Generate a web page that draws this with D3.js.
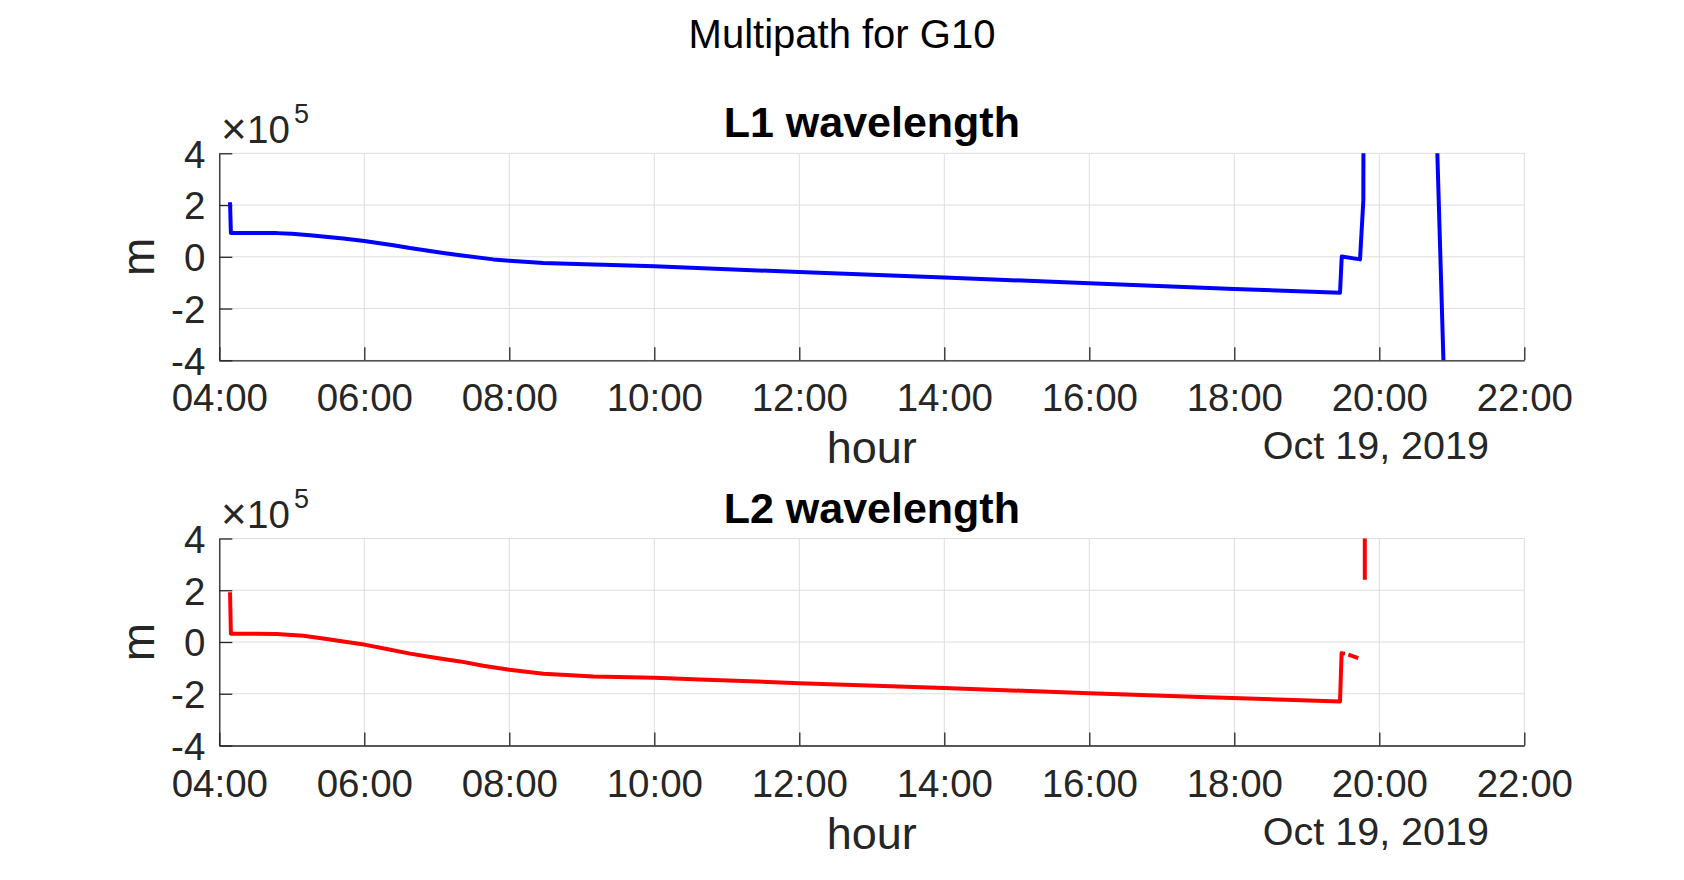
<!DOCTYPE html>
<html>
<head>
<meta charset="utf-8">
<script src="https://cdn.jsdelivr.net/npm/d3@7"></script>
<style>
  body { margin: 0; background: #fff; }
  svg { display: block; }
  text { font-family: "Liberation Sans", Helvetica, Arial, sans-serif; }
</style>
</head>
<body>
<svg id="fig" width="1684" height="880"></svg>
<script>
// hours of day (Oct 19, 2019) and multipath values in metres
var l1Hour = [4.148, 4.16, 4.5, 4.79, 5.0, 5.25, 5.71, 6.0, 6.4, 6.63, 7.09, 7.32, 7.78, 8.0, 8.47, 8.93, 9.16, 9.3,
              10.0, 12.0, 14.0, 16.0, 18.0, 19.458, 19.482, 19.734, 19.78, 19.80, 20.75, 20.935];
var l1Value = [211000, 92000, 92000, 91500, 89000, 83000, 71000, 61000, 45000, 34000, 15000, 6000, -10000, -15000,
               -24000, -28000, -30000, -31000, -37000, -59000, -80000, -102000, -124000, -139000, 1000, -10000,
               218000, 4000000, 880000, -880000];

// null = gap in the record
var l2Hour = [4.148, 4.16, 4.5, 4.79, 5.16, 5.48, 5.71, 6.0, 6.31, 6.63, 7.0, 7.32, 7.64, 8.0, 8.47, 8.79, 9.16,
              10.0, 10.63, 12.0, 14.0, 16.0, 17.53, 19.458, 19.48, 19.527, null, 19.574, 19.71, null, 19.795, 19.80];
var l2Value = [192000, 32000, 32000, 31000, 24000, 12000, 2000, -10000, -27000, -45000, -62000, -75000, -92000,
               -107000, -123000, -128000, -133000, -138000, -145000, -159000, -178000, -198000, -213000, -230000,
               -43000, -45000, null, -49000, -62000, null, 4000000, 241000];

var xTickHours = [4, 6, 8, 10, 12, 14, 16, 18, 20, 22];
var yTicks = [-400000, -200000, 0, 200000, 400000];

var figTitle = "Multipath for G10";
var panels = [
  { title: "L1 wavelength", hours: l1Hour, values: l1Value, color: "#0000ff", top: 153.3 },
  { title: "L2 wavelength", hours: l2Hour, values: l2Value, color: "#ff0000", top: 538.5 }
];

var day = new Date(2019, 9, 19, 0, 0, 0);
function toDate(h) { return new Date(day.getTime() + h * 3600000); }

var left = 219.3, right = 1524.3, plotH = 207;
var ink = "#262626", gridColor = "#dedede";

var svg = d3.select("#fig");

svg.append("text")
  .attr("x", 842).attr("y", 48)
  .attr("text-anchor", "middle")
  .attr("font-size", 40)
  .attr("fill", "#000")
  .text(figTitle);

var x = d3.scaleTime()
  .domain([toDate(4), toDate(22)])
  .range([left, right]);

panels.forEach(function (p, i) {
  var top = p.top, bottom = top + plotH;
  var y = d3.scaleLinear().domain([-400000, 400000]).range([bottom, top]);

  var g = svg.append("g");

  // grid
  g.append("g").selectAll("line")
    .data(xTickHours)
    .join("line")
    .attr("x1", d => x(toDate(d))).attr("x2", d => x(toDate(d)))
    .attr("y1", top).attr("y2", bottom)
    .attr("stroke", gridColor).attr("stroke-width", 1);
  g.append("g").selectAll("line")
    .data(yTicks)
    .join("line")
    .attr("x1", left).attr("x2", right)
    .attr("y1", d => y(d)).attr("y2", d => y(d))
    .attr("stroke", gridColor).attr("stroke-width", 1);

  // data line, clipped to the axes box
  var clipId = "clip" + i;
  svg.append("clipPath").attr("id", clipId)
    .append("rect").attr("x", left).attr("y", top)
    .attr("width", right - left).attr("height", plotH);

  var pts = p.hours.map(function (h, k) { return { h: h, v: p.values[k] }; });
  var line = d3.line()
    .defined(d => d.h !== null && d.v !== null)
    .x(d => x(toDate(d.h)))
    .y(d => y(d.v));

  g.append("path")
    .datum(pts)
    .attr("clip-path", "url(#" + clipId + ")")
    .attr("d", line)
    .attr("fill", "none")
    .attr("stroke", p.color)
    .attr("stroke-width", 4)
    .attr("stroke-linejoin", "round");

  // x axis
  var xAxis = d3.axisBottom(x)
    .tickValues(xTickHours.map(toDate))
    .tickFormat(d3.timeFormat("%H:%M"))
    .tickSizeInner(-13)
    .tickSizeOuter(0);
  var gx = g.append("g").attr("transform", "translate(0," + bottom + ")").call(xAxis);
  gx.select(".domain").attr("stroke", ink).attr("stroke-width", 1.3);
  gx.selectAll(".tick line").attr("stroke", ink).attr("stroke-width", 1.3);
  gx.selectAll(".tick text")
    .attr("y", 51).attr("dy", null)
    .attr("fill", ink)
    .attr("font-size", 38.5)
    .attr("font-family", "Liberation Sans, Helvetica, Arial, sans-serif");

  // y axis (plain hyphen for negatives)
  var yAxis = d3.axisLeft(y)
    .tickValues(yTicks)
    .tickFormat(d => String(d / 100000))
    .tickSizeInner(-13)
    .tickSizeOuter(0);
  var gy = g.append("g").attr("transform", "translate(" + left + ",0)").call(yAxis);
  gy.select(".domain").attr("stroke", ink).attr("stroke-width", 1.3);
  gy.selectAll(".tick line").attr("stroke", ink).attr("stroke-width", 1.3);
  gy.selectAll(".tick text")
    .attr("x", -14).attr("dy", "0.36em")
    .attr("fill", ink)
    .attr("font-size", 38.5)
    .attr("font-family", "Liberation Sans, Helvetica, Arial, sans-serif");

  // exponent label
  var ex = g.append("text")
    .attr("y", top - 10.5)
    .attr("fill", ink)
    .attr("font-size", 38.5);
  ex.append("tspan").attr("x", 221).attr("dy", 1).attr("font-size", 44).text("\u00d7");
  ex.append("tspan").attr("x", 247).attr("dy", -1).text("10");
  ex.append("tspan").attr("x", 294).attr("dy", -20).attr("font-size", 27).text("5");

  // titles and labels
  g.append("text")
    .attr("x", (left + right) / 2).attr("y", top - 16)
    .attr("text-anchor", "middle")
    .attr("font-size", 43).attr("font-weight", "bold")
    .attr("fill", "#000")
    .text(p.title);

  g.append("text")
    .attr("transform", "translate(154," + (top + plotH / 2) + ") rotate(-90)")
    .attr("text-anchor", "middle")
    .attr("font-size", 46)
    .attr("fill", ink)
    .text("m");

  g.append("text")
    .attr("x", (left + right) / 2).attr("y", bottom + 103)
    .attr("text-anchor", "middle")
    .attr("font-size", 45)
    .attr("fill", ink)
    .text("hour");

  g.append("text")
    .attr("x", 1489).attr("y", bottom + 99)
    .attr("text-anchor", "end")
    .attr("font-size", 39.5)
    .attr("fill", ink)
    .text(d3.timeFormat("%b %-d, %Y")(day));
});
</script>
</body>
</html>
